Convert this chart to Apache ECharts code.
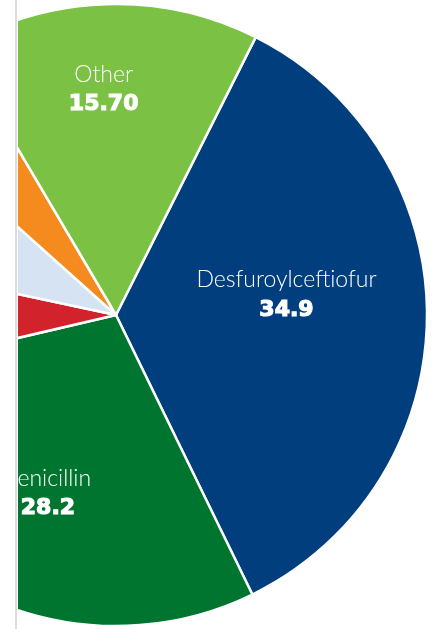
<!DOCTYPE html>
<html>
<head>
<meta charset="utf-8">
<script src="https://cdn.jsdelivr.net/npm/echarts@6/dist/echarts.min.js"></script>
<style>
html,body{margin:0;padding:0;background:#fff;}
#chart{width:436px;height:629px;}
</style>
</head>
<body>
<div id="chart"></div>
<script>
// Data (clockwise from the Desfuroylceftiofur slice)
var categories = ['Desfuroylceftiofur', 'Penicillin', 'Category 4', 'Category 5', 'Category 6', 'Other'];
var values = [34.9, 28.2, 6.9, 8.2, 4.8, 15.7];
var valueLabels = ['34.9', '28.2', '', '', '', '15.70'];
var showLabel = [true, true, false, false, false, true];

// Styles
var colors = ['#003E7E', '#00752F', '#D2222C', '#D5E3F2', '#F58A1F', '#7BC143'];
var labelOffsets = [[12, -21], [0, 35], [0, 0], [0, 0], [0, 0], [-7, -67]];

var chart = echarts.init(document.getElementById('chart'), null, {renderer: 'canvas'});

var seriesData = categories.map(function (name, i) {
  return {
    name: name,
    value: values[i],
    itemStyle: {color: colors[i]},
    label: {show: showLabel[i]}
  };
});

chart.setOption({
  animation: false,
  backgroundColor: '#ffffff',
  series: [{
    type: 'pie',
    center: [116, 315],
    radius: [0, 311],
    startAngle: 63.3,
    clockwise: true,
    avoidLabelOverlap: false,
    silent: true,
    itemStyle: {borderColor: '#ffffff', borderWidth: 2.5},
    labelLine: {show: false},
    label: {
      position: 'inside',
      formatter: function (p) {
        return '{n|' + p.name + '}\n{v|' + valueLabels[p.dataIndex] + '}';
      },
      rich: {
        n: {color: '#ffffff', fontFamily: 'Lato', fontWeight: 300, fontSize: 23, lineHeight: 30, align: 'center'},
        v: {color: '#ffffff', fontFamily: 'DejaVu Sans', fontWeight: 'bold', fontSize: 22, lineHeight: 30, align: 'center',
            textBorderColor: '#ffffff', textBorderWidth: 1.2}
      }
    },
    labelLayout: function (p) {
      var o = labelOffsets[p.dataIndex];
      return {dx: o[0], dy: o[1]};
    },
    data: seriesData
  }],
  graphic: [
    {type: 'rect', z: 100, shape: {x: 0, y: 0, width: 18, height: 629}, style: {fill: '#ffffff'}},
    {type: 'rect', z: 101, shape: {x: 15, y: 0, width: 2, height: 629}, style: {fill: '#dcdcdc'}}
  ]
});
</script>
</body>
</html>
